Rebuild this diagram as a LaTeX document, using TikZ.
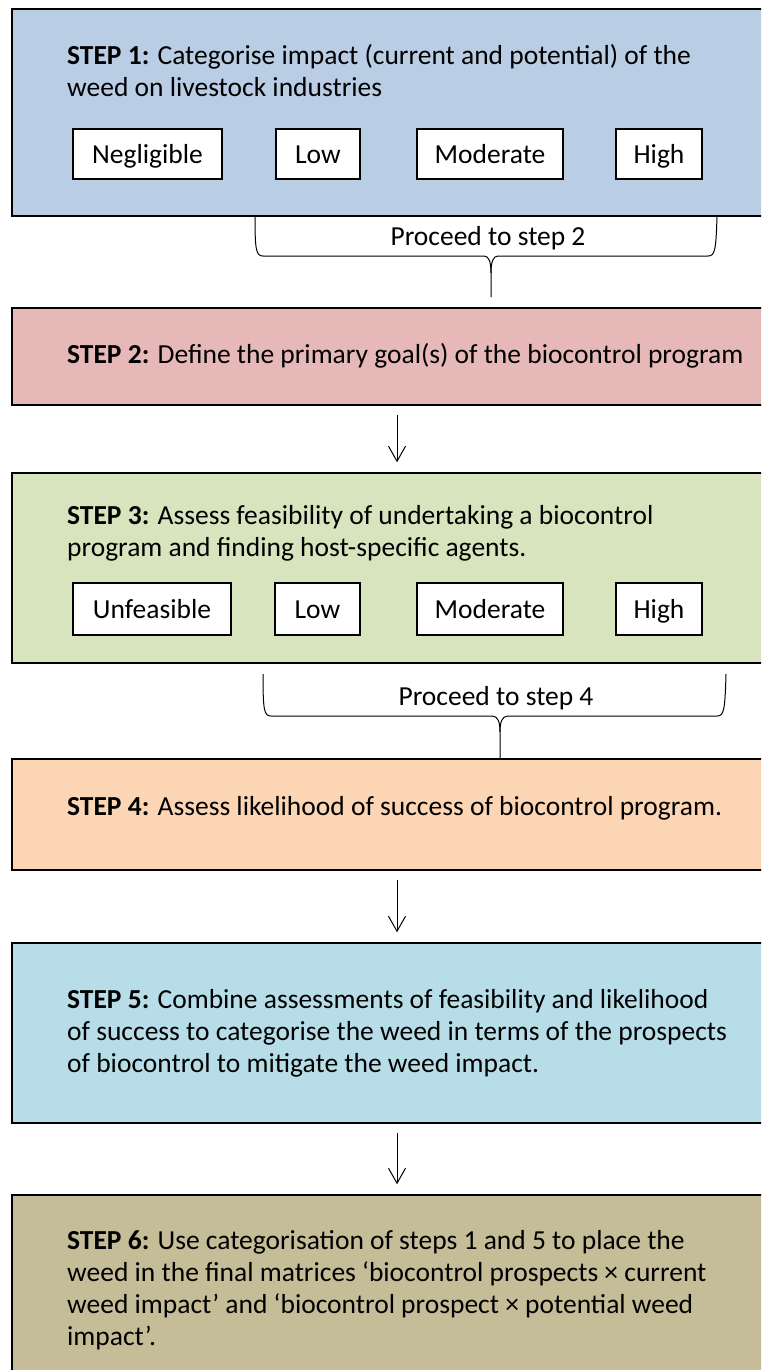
\documentclass[tikz,border=0pt]{standalone}
\usepackage{fontspec}
\setmainfont{Carlito}
\usepackage{tikz}
\usetikzlibrary{positioning,arrows.meta}

\definecolor{stepone}{HTML}{B9CDE5}
\definecolor{steptwo}{HTML}{E6B9B8}
\definecolor{stepthree}{HTML}{D7E4BD}
\definecolor{stepfour}{HTML}{FCD5B5}
\definecolor{stepfive}{HTML}{B7DEE8}
\definecolor{stepsix}{HTML}{C4BD97}

\begin{document}
\begin{tikzpicture}[x=1pt,y=-1pt,font=\fontsize{27.5}{32}\selectfont,
    bigbox/.style={draw,line width=1.5pt,minimum width=770pt,inner sep=0pt},
    levelbox/.style={draw,fill=white,line width=1.3pt,minimum height=50pt,inner sep=0pt,text height=18pt,text depth=0pt},
    steptext/.style={align=left,anchor=base west,inner sep=0pt},
    flow/.style={-{Straight Barb[length=15pt,width=17pt]},line width=1pt,shorten <=9pt,shorten >=10pt},
    bracket/.style={line width=1pt}]
    \useasboundingbox (0,0) rectangle (761,1370);
    \clip (0,0) rectangle (761,1370);

    \node[bigbox, fill=stepone, minimum height=207pt] (S_1) at (397,112.5) {};
    \node[bigbox, fill=steptwo, minimum height=97pt] (S_2) at (397,356.5) {};
    \node[bigbox, fill=stepthree, minimum height=190pt] (S_3) at (397,568) {};
    \node[bigbox, fill=stepfour, minimum height=111pt] (S_4) at (397,814.5) {};
    \node[bigbox, fill=stepfive, minimum height=180pt] (S_5) at (397,1033) {};
    \node[bigbox, fill=stepsix, minimum height=185pt] (S_6) at (397,1287.5) {};

    % text nodes sit on the baseline of their last line
    \node[steptext] (T_1) at (67,97) {\textbf{STEP 1:} Categorise impact (current and potential) of the\\weed on livestock industries};
    \node[steptext] (T_2) at (67,363) {\textbf{STEP 2:} Define the primary goal(s) of the biocontrol program};
    \node[steptext] (T_3) at (67,556) {\textbf{STEP 3:} Assess feasibility of undertaking a biocontrol\\program and finding host-specific agents.};
    \node[steptext] (T_4) at (67,815) {\textbf{STEP 4:} Assess likelihood of success of biocontrol program.};
    \node[steptext] (T_5) at (67,1072) {\textbf{STEP 5:} Combine assessments of feasibility and likelihood\\of success to categorise the weed in terms of the prospects\\of biocontrol to mitigate the weed impact.};
    \node[steptext] (T_6) at (67,1345) {\textbf{STEP 6:} Use categorisation of steps 1 and 5 to place the\\weed in the final matrices ‘biocontrol prospects × current\\weed impact’ and ‘biocontrol prospect × potential weed\\impact’.};

    \node[levelbox, minimum width=149pt] (I_neg) at (147.5,154) {Negligible};
    \node[levelbox, minimum width=84pt] (I_low) at (318,154) {Low};
    \node[levelbox, minimum width=146pt] (I_mod) at (490,154) {Moderate};
    \node[levelbox, minimum width=86pt] (I_high) at (659,154) {High};

    \node[levelbox, minimum width=158pt, minimum height=52pt] (F_unf) at (152,609) {Unfeasible};
    \node[levelbox, minimum width=85pt, minimum height=52pt] (F_low) at (317.5,609) {Low};
    \node[levelbox, minimum width=146pt, minimum height=52pt] (F_mod) at (490,609) {Moderate};
    \node[levelbox, minimum width=86pt, minimum height=52pt] (F_high) at (659,609) {High};

    % brace under step 1
    \draw[bracket] (255,216) .. controls (255,250) and (256,256) .. (263,256) -- (484,256)
        .. controls (489,256) and (491,262) .. (491,273) -- (491,297);
    \draw[bracket] (717,216) .. controls (716,250) and (715,256) .. (708,256) -- (498,256)
        .. controls (493,256) and (491,262) .. (491,273);
    \node[anchor=base, inner sep=0pt] (P_2) at (488,245) {Proceed to step 2};

    % brace under step 3
    \draw[bracket] (263,674) .. controls (263,710) and (264,716) .. (271,716) -- (492,716)
        .. controls (498,716) and (500,722) .. (500,732) -- (S_4.north -| 500,0);
    \draw[bracket] (726,674) .. controls (725,710) and (724,716) .. (717,716) -- (508,716)
        .. controls (502,716) and (500,722) .. (500,732);
    \node[anchor=base, inner sep=0pt] (P_4) at (496,705) {Proceed to step 4};

    \draw[flow] (S_2) -- (S_3);
    \draw[flow] (S_4) -- (S_5);
    \draw[flow] (S_5) -- (S_6);
\end{tikzpicture}
\end{document}
